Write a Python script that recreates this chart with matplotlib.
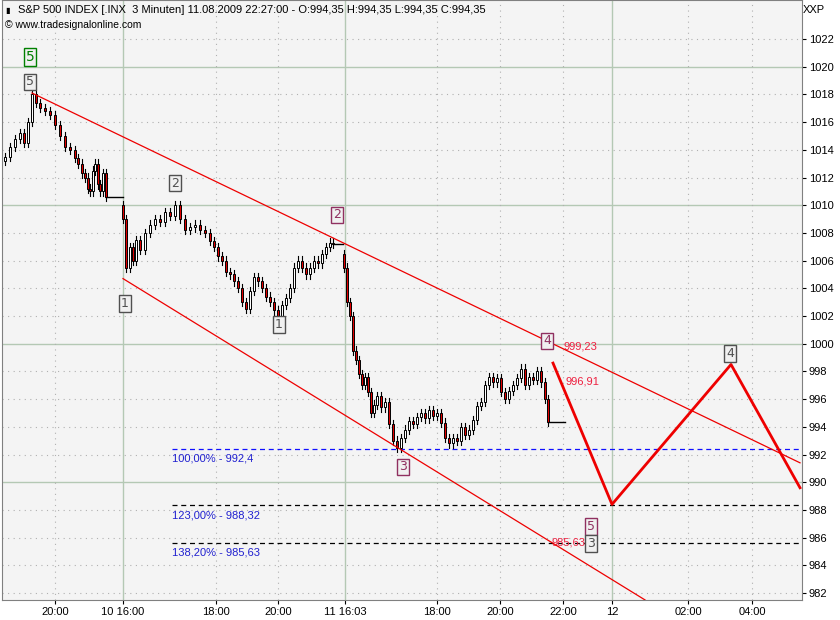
import matplotlib.pyplot as plt

# bar positions (chart columns) and closing prices
s1_x = [5, 10, 15, 20, 24, 28, 32, 36, 40, 45, 50, 55, 60, 65, 70, 75, 78, 82, 85, 88, 90, 93, 95, 98, 100, 103, 106]
s1_c = [1013.5, 1014.2, 1014.8, 1015.2, 1014.5, 1016, 1018, 1017.4, 1017, 1016.8, 1016.5, 1015.8, 1015, 1014.2, 1014, 1013.4, 1013, 1012.3, 1012, 1011.2, 1011, 1012.5, 1013, 1011.5, 1011, 1012.3, 1010.6]
s2_x = [123, 126, 130, 133, 136, 140, 145, 150, 155, 160, 165, 170, 175, 180, 185, 190, 195, 200, 205, 210, 214, 218, 222, 226, 230, 234, 238, 242, 246, 250, 254, 258, 262, 266, 270, 274, 278, 282, 286, 290, 294, 298, 302, 306, 310, 314, 318, 322, 326, 330, 333]
s2_c = [1009, 1005.5, 1007, 1006, 1007.5, 1006.8, 1008, 1008.6, 1009, 1008.8, 1009.5, 1009.2, 1010, 1009, 1008.2, 1008.4, 1008.6, 1008.2, 1008, 1007.4, 1007, 1006.3, 1006, 1005.2, 1005, 1004.5, 1004, 1003, 1002.5, 1003.8, 1004.8, 1004.5, 1004, 1003.4, 1003, 1002.4, 1001.5, 1002.8, 1003.3, 1004, 1005.5, 1006, 1005.5, 1005, 1005.5, 1006, 1005.8, 1006.5, 1007, 1007.3, 1007.2]
s3_x = [344, 347, 350, 353, 356, 359, 362, 365, 368, 371, 374, 377, 381, 385, 389, 393, 397, 401, 405, 409, 413, 417, 421, 425, 429, 433, 437, 441, 445, 449, 453, 457, 461, 465, 469, 473, 477, 481, 485, 489, 493, 497, 501, 505, 509, 513, 517, 521, 525, 529, 533, 537, 541, 545, 548]
s3_c = [1005.5, 1003, 1002, 999.5, 998.8, 997.8, 997, 997.6, 996.5, 995, 995.6, 996.2, 995.4, 995.8, 994.2, 993, 992.5, 993.2, 993.8, 994.4, 994.2, 994.7, 995, 994.6, 995.2, 994.8, 995, 994.3, 993.2, 992.8, 993.2, 993, 994, 993.4, 993.8, 994.5, 995.5, 995.8, 997, 997.6, 997.2, 997.5, 996.5, 996, 996.6, 997, 997.5, 998.2, 997, 997.6, 997.4, 998, 997.2, 996, 994.35]

price_ticks = list(range(982, 1024, 2))
time_pos = [55, 123, 216, 278, 345, 437, 500, 563, 612, 688, 752]
time_labels = ['20:00', '10 16:00', '18:00', '20:00', '11 16:03', '18:00', '20:00', '22:00', '12', '02:00', '04:00']

upper_x, upper_y = [32, 800], [1018.1, 991.4]
lower_x, lower_y = [123, 645], [1004.7, 981.5]
proj_x, proj_y = [553, 612, 731, 800], [998.6, 988.4, 998.5, 989.6]
fib_levels = [992.4, 988.32, 985.63]
fib_texts = ['100,00% - 992,4', '123,00% - 988,32', '138,20% - 985,63']
fib_colors = ['#1010ff', 'black', 'black']

fig = plt.figure(figsize=(8.4, 6.2), dpi=100, facecolor='white')
ax = fig.add_axes([2 / 840, 20 / 620, 800 / 840, 600 / 620])
ax.set_facecolor('#f4f4f4')
ax.set_xlim(2, 802)
ax.set_ylim(1022 - 561 / 13.85, 1022 + 39 / 13.85)

for p in price_ticks:
    if p % 10 == 0:
        ax.axhline(p, color='#b4c8b4', lw=1, zorder=0)
    else:
        ax.axhline(p, color='#b0b0b0', lw=0.8, ls=(0, (1, 4)), zorder=0)
for xp, lab in zip(time_pos, time_labels):
    if lab in ('10 16:00', '11 16:03', '12'):
        ax.axvline(xp, color='#b4c8b4', lw=1, zorder=0)
    else:
        ax.axvline(xp, color='#b0b0b0', lw=0.8, ls=(0, (1, 4)), zorder=0)


def candles(xs, cs, first_open):
    o = first_open
    for x, c in zip(xs, cs):
        hi, lo = max(o, c) + 0.3, min(o, c) - 0.3
        ax.plot([x, x], [lo, hi], color='black', lw=0.8, zorder=3)
        face = 'white' if c >= o else '#e00000'
        ax.add_patch(plt.Rectangle((x - 1.2, min(o, c)), 2.4, max(abs(c - o), 0.05),
                                   facecolor=face, edgecolor='black', lw=0.7, zorder=4))
        o = c
    return o


candles(s1_x, s1_c, 1013.2)
ax.plot([s1_x[-1], 123], [s1_c[-1], s1_c[-1]], color='black', lw=1)
candles(s2_x, s2_c, 1010)
ax.plot([s2_x[-1], 343], [s2_c[-1], s2_c[-1]], color='black', lw=1)
candles(s3_x, s3_c, 1006.5)
ax.plot([s3_x[-1], 565], [s3_c[-1], s3_c[-1]], color='black', lw=1)

ax.plot(upper_x, upper_y, color='#ee0000', lw=0.9, zorder=5)
ax.plot(lower_x, lower_y, color='#ee0000', lw=0.9, zorder=5)
ax.plot(proj_x, proj_y, color='#ee0000', lw=2, zorder=5)
for lvl, txt, col in zip(fib_levels, fib_texts, fib_colors):
    ax.plot([172, 802], [lvl, lvl], color=col, lw=0.9, ls=(0, (4, 3)), zorder=2)
    ax.text(172, lvl - 0.35, txt, color='#2020d0', fontsize=8, va='top', family='Liberation Sans')

ax.text(563, 999.8, '999,23', color='#ee2040', fontsize=8, va='center', family='Liberation Sans')
ax.text(565, 997.3, '996,91', color='#ee2040', fontsize=8, va='center', family='Liberation Sans')
ax.text(552, 985.63, '985,63', color='#ee2040', fontsize=8, va='center', family='Liberation Sans')

boxes = [(30, 1020.7, '5', '#008000', 10), (30, 1018.9, '5', '#505050', 9),
         (175, 1011.6, '2', '#505050', 9), (125, 1002.9, '1', '#505050', 9),
         (279, 1001.4, '1', '#505050', 9), (337, 1009.3, '2', '#903060', 9),
         (403, 991.1, '3', '#903060', 9), (547, 1000.2, '4', '#903060', 9),
         (730, 999.3, '4', '#505050', 9), (591, 986.8, '5', '#903060', 9),
         (591, 985.6, '3', '#505050', 9)]
for bx, by, t, col, fs in boxes:
    ax.text(bx, by, t, color=col, fontsize=fs, ha='center', va='center', zorder=6,
            bbox=dict(boxstyle='square,pad=0.15', fc='#f0f0f0', ec=col, lw=1))

ax.yaxis.tick_right()
ax.set_yticks(price_ticks)
ax.set_yticklabels([str(p) for p in price_ticks], fontsize=8, family='Liberation Sans')
ax.set_xticks(time_pos)
ax.set_xticklabels(time_labels, fontsize=8, family='Liberation Sans')
ax.tick_params(length=3, pad=2)
for sp in ax.spines.values():
    sp.set_color('#808080')

fig.text(18 / 840, 1 - 10 / 620, 'S&P 500 INDEX [.INX  3 Minuten] 11.08.2009 22:27:00 - O:994,35 H:994,35 L:994,35 C:994,35',
         fontsize=8, va='center', family='Liberation Sans')
fig.text(5 / 840, 1 - 10 / 620, '▮', fontsize=6, va='center')
fig.text(5 / 840, 1 - 25 / 620, '© www.tradesignalonline.com', fontsize=7.5, va='center', family='Liberation Sans')
fig.text(803 / 840, 1 - 10 / 620, 'XXP', fontsize=8, va='center', family='Liberation Sans')

fig.savefig('out.png', dpi=100)
